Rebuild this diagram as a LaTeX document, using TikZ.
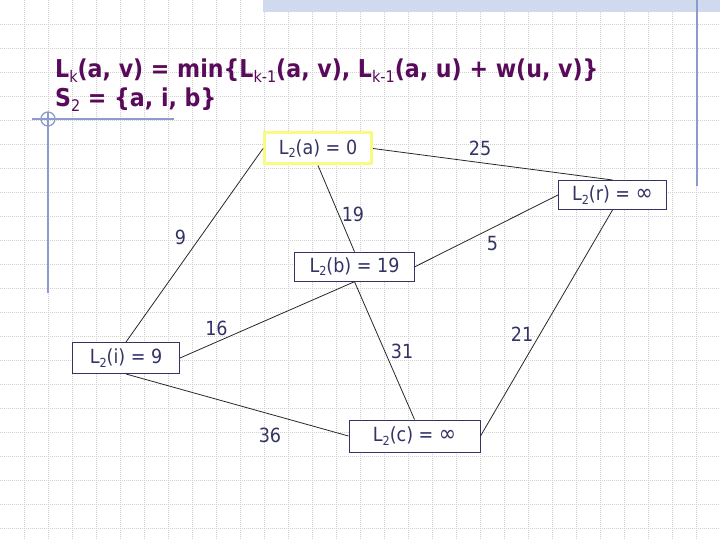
\documentclass[tikz,border=0pt]{standalone}
\usepackage{fontspec}
\setmainfont{DejaVu Sans Condensed}
\definecolor{titlecol}{RGB}{90,10,90}
\definecolor{navy}{RGB}{51,51,102}
\definecolor{gridcol}{RGB}{208,208,208}
\definecolor{decocol}{RGB}{140,155,205}
\definecolor{bandcol}{RGB}{208,218,238}
\definecolor{yelcol}{RGB}{250,250,130}
\definecolor{edgecol}{RGB}{40,40,40}
\newcommand\tsub[1]{\raisebox{-4.5pt}{\mdseries\fontsize{16}{16}\selectfont #1}}
\newcommand\nsub[1]{\raisebox{-3.5pt}{\fontsize{12.5}{12.5}\selectfont #1}}
\newcommand\infsym{{\fontsize{23}{23}\selectfont ∞}}
\begin{document}
\begin{tikzpicture}[x=1pt,y=-1pt,
  gridline/.style={draw=gridcol,line width=0.8pt,dash pattern=on 1pt off 1pt},
  deco/.style={draw=decocol,line width=1.3pt},
  titletext/.style={text=titlecol,font=\fontsize{24.6}{26}\selectfont\bfseries,inner sep=0pt,anchor=base west},
  nbox/.style={draw=navy,line width=1pt,fill=white,text=navy,font=\fontsize{19.5}{22}\selectfont,inner sep=0pt},
  lbl/.style={text=navy,font=\fontsize{19.5}{22}\selectfont,inner sep=0pt},
  edge/.style={draw=edgecol,line width=0.8pt}]
\useasboundingbox (0,0) rectangle (720,540);
\fill[white] (0,0) rectangle (720,540);
\foreach \x in {24,48,...,696} \draw[gridline] (\x,0) -- (\x,540);
\foreach \y in {24,48,...,528} \draw[gridline] (0,\y) -- (720,\y);
\fill[bandcol] (263,0) rectangle (720,12.5);
\draw[deco] (697,0) -- (697,186);
\draw[deco] (48,112) -- (48,293);
\draw[deco] (32,119) -- (174,119);
\draw[deco] (48,119) circle (7);
% title
\node[titletext] (t1) at (55,78) {L\tsub{k}(a, v) = min\{L\tsub{k-1}(a, v), L\tsub{k-1}(a, u) + w(u, v)\}};
\node[titletext] (t2) at (55,107) {S\tsub{2} = \{a, i, b\}};
% nodes
\node[nbox,draw=yelcol,line width=3pt,minimum width=107,minimum height=31] (a) at (318,148.5) {L\nsub{2}(a) = 0};
\node[nbox,minimum width=108,minimum height=29] (r) at (612.5,195) {L\nsub{2}(r) = \infsym};
\node[nbox,minimum width=120,minimum height=29] (b) at (354.5,266.7) {L\nsub{2}(b) = 19};
\node[nbox,minimum width=107,minimum height=31] (i) at (126,358) {L\nsub{2}(i) = 9};
\node[nbox,minimum width=131,minimum height=32] (c) at (414.5,436) {L\nsub{2}(c) = \infsym};
% edges
\draw[edge] (a.east) -- (r.north);
\draw[edge] (a.west) -- (i.north);
\draw[edge] (a.south) -- (b.north);
\draw[edge] (r.west) -- (b.east);
\draw[edge] (r.south) -- (c.east);
\draw[edge] (b.south) -- (i.east);
\draw[edge] (b.south) -- (c.north);
\draw[edge] (i.south) -- (c.west);
% weights
\node[lbl] (w25) at (480,148) {25};
\node[lbl] (w19) at (353,214) {19};
\node[lbl] (w9) at (180.5,237.5) {9};
\node[lbl] (w5) at (492.5,244) {5};
\node[lbl] (w16) at (216.5,328) {16};
\node[lbl] (w21) at (522,334.5) {21};
\node[lbl] (w31) at (402,351) {31};
\node[lbl] (w36) at (270,435) {36};
\end{tikzpicture}
\end{document}
